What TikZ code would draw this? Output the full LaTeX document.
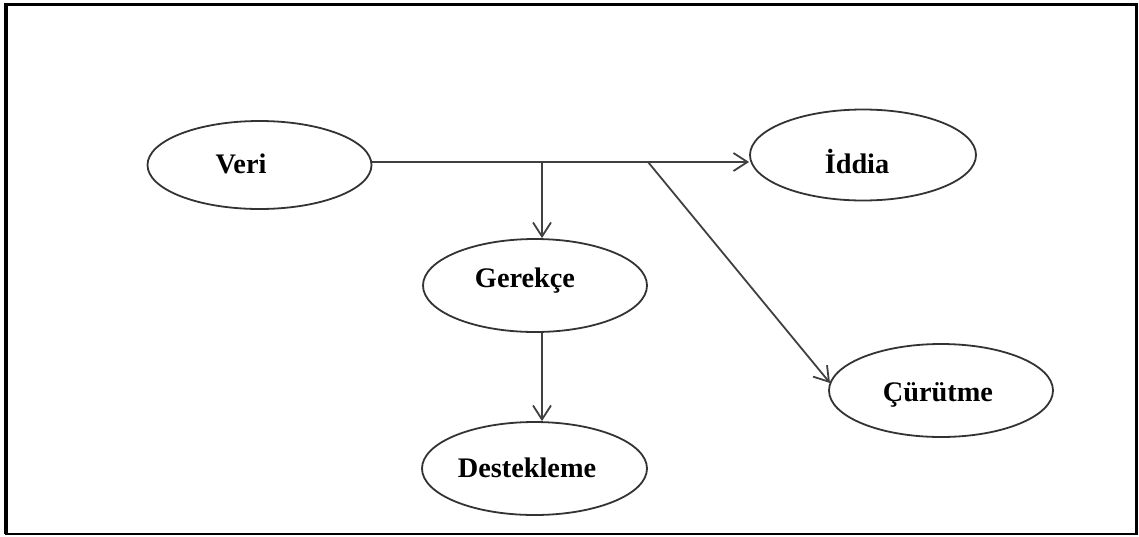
\documentclass[tikz,border=0pt]{standalone}
\usepackage{fontspec}
\setmainfont{Liberation Serif}
\usetikzlibrary{arrows.meta,shapes.geometric}
\begin{document}
\begin{tikzpicture}[x=1pt,y=-1pt,
  oval/.style={draw=black!80,line width=1.8pt,ellipse,minimum width=225pt,minimum height=92pt,inner sep=0pt},
  lbl/.style={anchor=base,font=\fontsize{28.3}{31}\selectfont\bfseries,inner sep=0pt},
  link/.style={draw=black!75,line width=1.8pt},
  arr/.style={link,-{Straight Barb[length=14pt,width=18pt,line width=1.8pt]}}]
\useasboundingbox (0,0) rectangle (1139,536);
% frame
\draw[line width=3.5pt] (6,534) -- (6,4.5) -- (1136.5,4.5) -- (1136.5,534);
\draw[line width=2pt] (5,534) -- (1137.5,534);
% ellipses
\node[oval,minimum width=224pt,minimum height=88pt] (veri) at (259.5,165) {};
\node[oval,minimum width=226pt,minimum height=91pt] (iddia) at (863,155) {};
\node[oval,minimum width=224pt,minimum height=93pt] (gerekce) at (535,285.5) {};
\node[oval,minimum width=225pt,minimum height=93pt] (destek) at (534.5,468.5) {};
\node[oval,minimum width=224pt,minimum height=93pt] (curutme) at (941,390.5) {};
% labels
\node[lbl] (veriT) at (241,173) {Veri};
\node[lbl] (iddiaT) at (857,173) {İddia};
\node[lbl] (gerekceT) at (525,287) {Gerekçe};
\node[lbl] (destekT) at (527,477) {Destekleme};
\node[lbl] (curutmeT) at (938,401) {Çürütme};
% branch points on the main line
\coordinate (j1) at (542,162);
\coordinate (j2) at (648,162);
\coordinate (cend) at (830,383);
% connectors
\draw[arr] (veri.east |- j1) -- (iddia.west |- j1);
\draw[arr] (j1) -- (gerekce.north -| j1);
\draw[arr] (j2) -- (cend);
\draw[arr] (gerekce.south -| j1) -- (destek.north -| j1);
\end{tikzpicture}
\end{document}
